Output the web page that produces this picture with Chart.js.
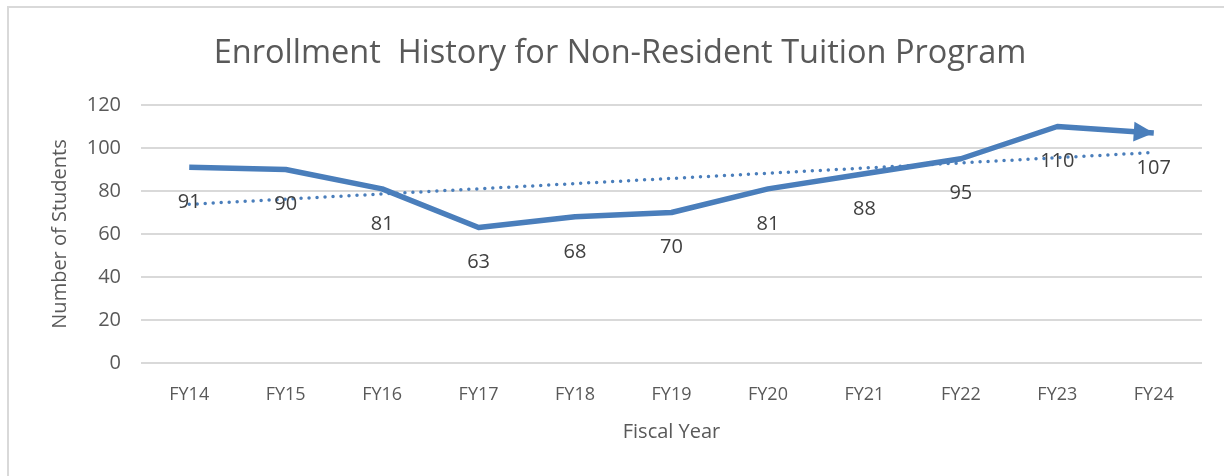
<!DOCTYPE html>
<html>
<head>
<meta charset="utf-8">
<script src="https://cdn.jsdelivr.net/npm/chart.js@4/dist/chart.umd.min.js"></script>
<style>
  body { margin: 0; background: #fff; }
  #box { position: relative; width: 1224px; height: 476px; }
  #frame { position: absolute; left: 7px; top: 6px; right: 0; bottom: 0; border-left: 2px solid #d9d9d9; border-top: 2px solid #d9d9d9; }
</style>
</head>
<body>
<div id="box">
  <div id="frame"></div>
  <canvas id="grafico" width="1224" height="476"></canvas>
</div>
<script>
// dados
const anos = ['FY14', 'FY15', 'FY16', 'FY17', 'FY18', 'FY19', 'FY20', 'FY21', 'FY22', 'FY23', 'FY24']
const alunos = [91, 90, 81, 63, 68, 70, 81, 88, 95, 110, 107]
// linha de tendencia: so os extremos
const tendencia = [73.8, null, null, null, null, null, null, null, null, null, 97.9]

const azul = '#4a7ebb'
const fonte = "'Open Sans', 'Noto Sans', sans-serif"

// rotulos abaixo dos pontos + seta no fim da linha
const extras = {
  id: 'extras',
  afterDatasetsDraw(chart) {
    const ctx = chart.ctx
    const pts = chart.getDatasetMeta(0).data
    ctx.save()
    ctx.fillStyle = '#404040'
    ctx.font = '20px ' + fonte
    ctx.textAlign = 'center'
    ctx.textBaseline = 'middle'
    pts.forEach((p, i) => {
      ctx.fillText(String(alunos[i]), p.x, p.y + 35)
    })
    // seta
    const a = pts[pts.length - 2]
    const b = pts[pts.length - 1]
    const ang = Math.atan2(b.y - a.y, b.x - a.x)
    const len = 20, half = 10
    ctx.translate(b.x, b.y)
    ctx.rotate(ang)
    ctx.fillStyle = azul
    ctx.beginPath()
    ctx.moveTo(0, 0)
    ctx.lineTo(-len, -half)
    ctx.lineTo(-len, half)
    ctx.closePath()
    ctx.fill()
    ctx.restore()
  }
}

const ctx = document.getElementById('grafico').getContext('2d')
const graph = new Chart(ctx, {
  type: 'line',
  data: {
    labels: anos,
    datasets: [
      {
        label: 'Alunos',
        data: alunos,
        borderColor: azul,
        backgroundColor: azul,
        borderWidth: 5.5,
        pointRadius: 0,
        tension: 0,
        borderJoinStyle: 'round'
      },
      {
        label: 'Tendencia',
        data: tendencia,
        spanGaps: true,
        borderColor: azul,
        borderWidth: 3.5,
        borderDash: [0, 8],
        borderCapStyle: 'round',
        pointRadius: 0
      }
    ]
  },
  options: {
    responsive: false,
    animation: false,
    layout: { padding: { left: 38, right: 22, top: 0, bottom: 32 } },
    plugins: {
      legend: { display: false },
      tooltip: { enabled: false },
      title: {
        display: true,
        text: 'Enrollment  History for Non-Resident Tuition Program',
        color: '#595959',
        font: { family: fonte, size: 32.5, weight: 'normal' },
        padding: { top: 34.5, bottom: 31.5 }
      }
    },
    scales: {
      x: {
        offset: true,
        grid: { display: false },
        border: { display: false },
        ticks: { color: '#595959', font: { family: fonte, size: 18 }, padding: 13 },
        title: {
          display: true,
          text: 'Fiscal Year',
          color: '#595959',
          font: { family: fonte, size: 20 },
          padding: { top: 4, bottom: 0 }
        },
        afterFit: s => { s.height = 81 }
      },
      y: {
        min: 0,
        max: 120,
        ticks: { stepSize: 20, color: '#595959', font: { family: fonte, size: 20 }, padding: 20 },
        grid: { color: '#d9d9d9', lineWidth: 2, drawTicks: false },
        border: { display: false },
        title: {
          display: true,
          text: 'Number of Students',
          color: '#595959',
          font: { family: fonte, size: 20 },
          padding: { top: 10, bottom: 0 }
        },
        afterFit: s => { s.width = 103 }
      }
    }
  },
  plugins: [extras]
})
</script>
</body>
</html>
